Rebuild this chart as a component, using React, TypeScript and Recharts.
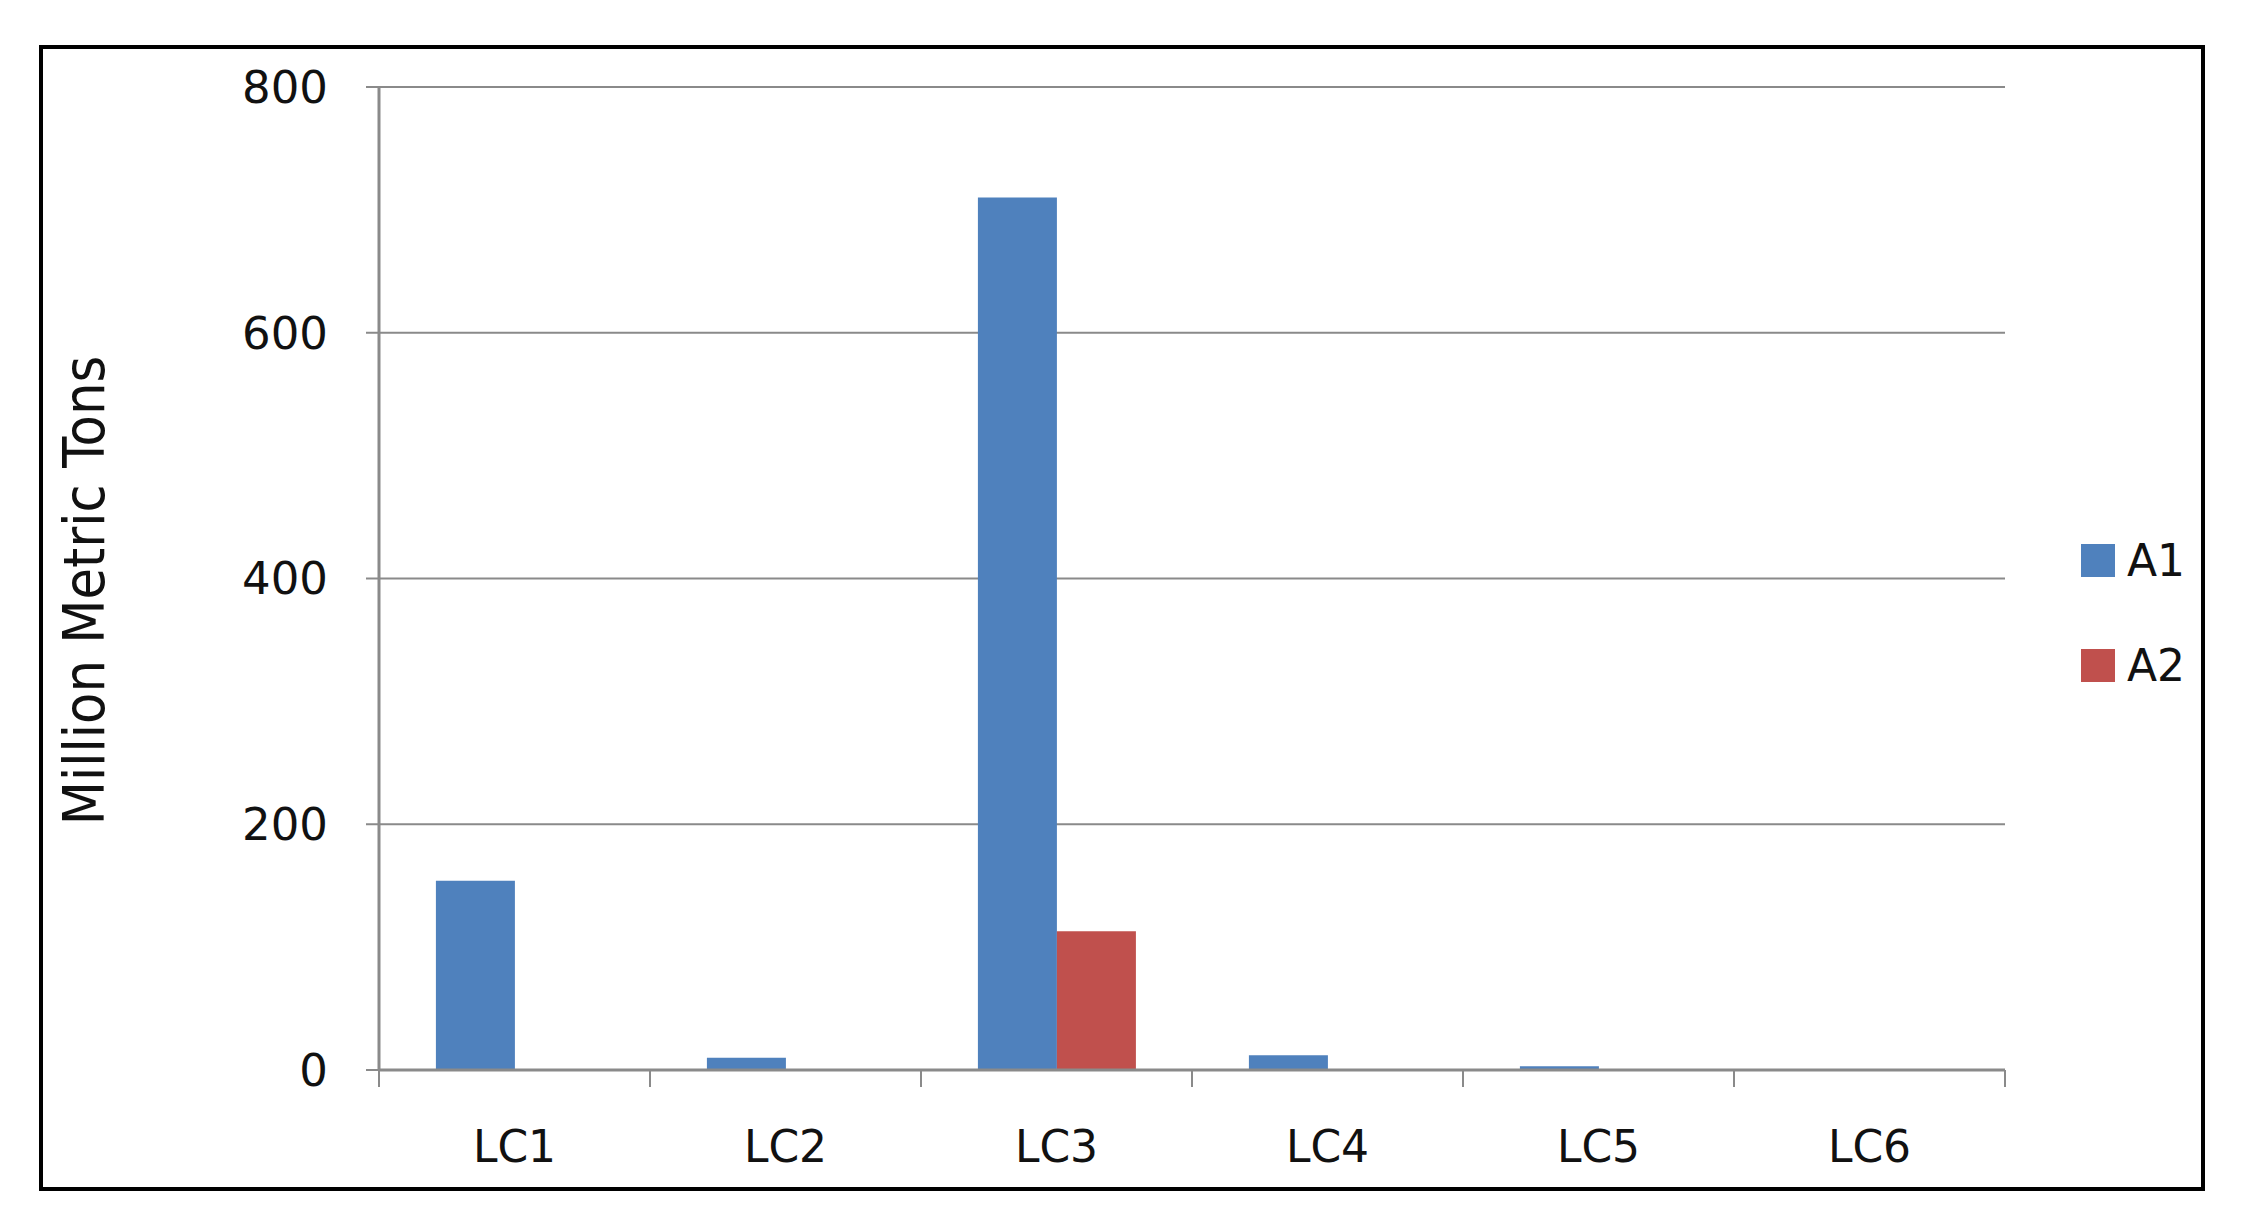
import React from "react";
import {
  BarChart,
  Bar,
  XAxis,
  YAxis,
  CartesianGrid,
} from "recharts";

const categories = ["LC1", "LC2", "LC3", "LC4", "LC5", "LC6"];
const a1Values = [154, 10, 710, 12, 3, 0];
const a2Values = [0, 0, 113, 0, 0, 0];
const yTicks = [0, 200, 400, 600, 800];

const seriesNames = ["A1", "A2"];
const seriesColors = ["#4F81BD", "#C0504D"];

const data = categories.map((name, i) => ({
  name,
  A1: a1Values[i],
  A2: a2Values[i],
}));

const FONT = "'DejaVu Sans', sans-serif";
const GRID = "#8a8a8a";

const XTick = (props: any) => {
  const { x, y, payload, index } = props;
  const half = payload?.offset ?? 0;
  return (
    <g>
      <line x1={x - half} x2={x - half} y1={y} y2={y + 17} stroke={GRID} strokeWidth={2} />
      {index === categories.length - 1 && (
        <line x1={x + half} x2={x + half} y1={y} y2={y + 17} stroke={GRID} strokeWidth={2} />
      )}
      <text
        x={x}
        y={y + 76}
        textAnchor="middle"
        dominantBaseline="central"
        fontFamily={FONT}
        fontSize={44}
        fill="#111"
      >
        {payload.value}
      </text>
    </g>
  );
};

const YLabel = (props: any) => {
  const { viewBox } = props;
  const cx = viewBox.x + 45;
  const cy = viewBox.y + viewBox.height / 2 + 12;
  return (
    <text
      x={cx}
      y={cy}
      transform={`rotate(-90, ${cx}, ${cy})`}
      textAnchor="middle"
      dominantBaseline="central"
      fontFamily="'DejaVu Sans Condensed', 'DejaVu Sans', sans-serif"
      fontSize={57}
      fill="#111"
    >
      Million Metric Tons
    </text>
  );
};

export default function App() {
  return (
    <div
      style={{
        position: "absolute",
        left: 0,
        top: 0,
        width: 2267,
        height: 1228,
        background: "#fff",
      }}
    >
      <div
        style={{
          position: "absolute",
          left: 39,
          top: 45,
          width: 2158,
          height: 1138,
          border: "4px solid #000",
        }}
      />
      <div style={{ position: "absolute", left: 0, top: 0 }}>
        <BarChart
          width={2267}
          height={1228}
          data={data}
          margin={{ top: 87, right: 262, bottom: 58, left: 39 }}
          barCategoryGap="21%"
          barGap={0}
        >
          <CartesianGrid vertical={false} stroke={GRID} strokeWidth={2} />
          <XAxis
            dataKey="name"
            height={100}
            tickLine={false}
            tickSize={0}
            tickMargin={0}
            axisLine={{ stroke: GRID, strokeWidth: 3 }}
            tick={<XTick />}
            interval={0}
          />
          <YAxis
            yAxisId={0}
            width={340}
            domain={[0, 800]}
            ticks={yTicks}
            interval={0}
            tickSize={13}
            tickMargin={38}
            tickLine={{ stroke: GRID, strokeWidth: 2 }}
            axisLine={{ stroke: GRID, strokeWidth: 3 }}
            tick={{ fontFamily: FONT, fontSize: 45, fill: "#111" }}
            label={<YLabel />}
          />
          <YAxis
            yAxisId="right"
            orientation="right"
            width={0}
            domain={[0, 800]}
            tick={false}
            tickLine={false}
            axisLine={{ stroke: GRID, strokeWidth: 2 }}
          />
          <Bar dataKey="A1" name="A1" fill={seriesColors[0]} isAnimationActive={false} />
          <Bar dataKey="A2" name="A2" fill={seriesColors[1]} isAnimationActive={false} />
        </BarChart>
      </div>
      <div style={{ position: "absolute", left: 2081, top: 508, width: 160 }}>
        {seriesNames.map((name, i) => (
          <div
            key={name}
            style={{ display: "flex", alignItems: "center", height: 105 }}
          >
            <div style={{ width: 34, height: 33, background: seriesColors[i] }} />
            <span
              style={{
                marginLeft: 12,
                fontFamily: FONT,
                fontSize: 44,
                color: "#111",
                lineHeight: "44px",
              }}
            >
              {name}
            </span>
          </div>
        ))}
      </div>
    </div>
  );
}
